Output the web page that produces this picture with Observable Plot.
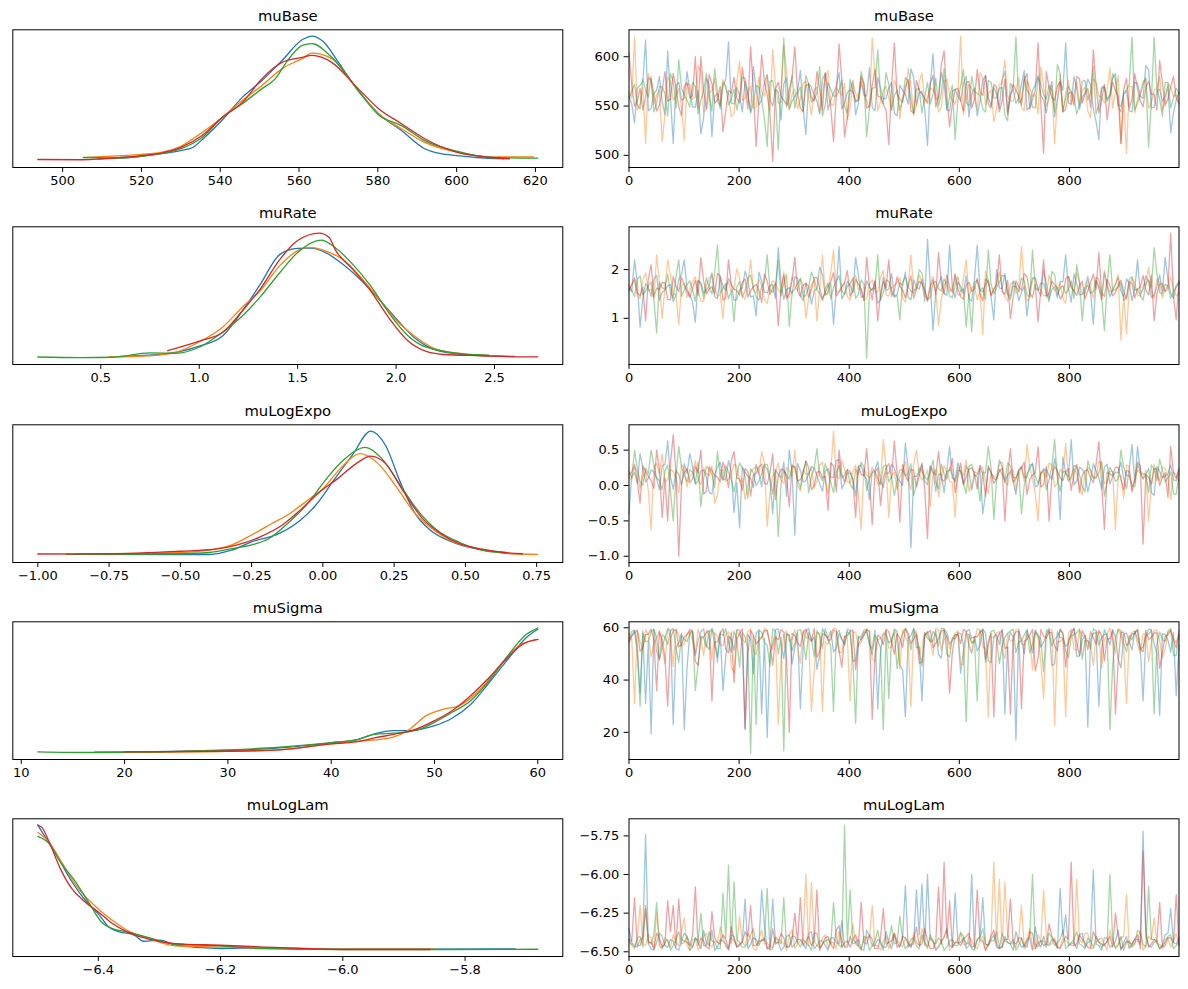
<!DOCTYPE html>
<html><head><meta charset="utf-8">
<script src="https://cdn.jsdelivr.net/npm/d3@7"></script>
<script src="https://cdn.jsdelivr.net/npm/@observablehq/plot@0.6"></script>
<style>
body{margin:0;background:#fff;}
#fig{position:relative;width:1188px;height:989px;background:#fff;}
#fig svg{position:absolute;overflow:visible;}
</style></head><body><div id="fig"></div>
<script>
// ---------- categories ----------
const paramNames = ["muBase","muRate","muLogExpo","muSigma","muLogLam"];
const chainColors = ["#1f77b4","#ff7f0e","#2ca02c","#d62728"];
const drawTicks = [0,200,400,600,800];

// ---------- KDE curves (x value, relative density) per chain: blue, orange, green, red ----------
const muBaseKdeX = [
 [509,515,520,525,530,533,536,540.5,545.6,550.6,555.7,560.8,563.3,566,570,575,580.2,586,591.9,596,600,605,612],
 [506,515,520,525,530,535.4,540.5,545.6,550.6,555.7,560.8,563.3,568.3,575,580.2,586,591.9,600,608.8,619.5],
 [505.2,515,520,525,530,535.4,540.5,545.6,550.6,554,557,560.8,563.3,568.3,575,580.2,586,591.9,600,608.8,620.6],
 [493.7,505,515,520,525,530,535.4,540.5,545.6,550.6,555.7,560.8,563.3,568.3,575,580.2,586,591.9,600,608.8,613.4]];
const muBaseKdeY = [
 [0.02,0.03,0.04,0.06,0.085,0.11,0.19,0.33,0.51,0.645,0.805,0.97,1.0,0.96,0.79,0.565,0.38,0.245,0.1,0.06,0.045,0.03,0.02],
 [0.03,0.045,0.055,0.07,0.12,0.23,0.35,0.485,0.605,0.74,0.82,0.863,0.82,0.565,0.38,0.26,0.15,0.072,0.035,0.035],
 [0.03,0.025,0.04,0.06,0.1,0.19,0.35,0.46,0.58,0.66,0.8,0.925,0.94,0.83,0.565,0.37,0.285,0.165,0.08,0.03,0.025],
 [0.014,0.012,0.03,0.045,0.065,0.11,0.205,0.35,0.47,0.66,0.79,0.83,0.845,0.79,0.58,0.42,0.3,0.18,0.072,0.03,0.02]];

const muRateKdeX = [
 [0.6,0.8,1.0,1.12,1.22,1.31,1.41,1.5,1.57,1.64,1.73,1.83,1.92,2.01,2.1,2.2,2.34,2.6],
 [0.54,0.75,0.88,1.0,1.12,1.22,1.31,1.41,1.5,1.56,1.66,1.73,1.83,1.92,2.01,2.1,2.2,2.34,2.5],
 [0.18,0.4,0.56,0.75,0.88,1.0,1.12,1.22,1.31,1.41,1.5,1.62,1.69,1.78,1.87,1.96,2.06,2.15,2.34,2.47],
 [0.84,1.0,1.12,1.22,1.31,1.41,1.5,1.61,1.66,1.69,1.78,1.87,1.96,2.06,2.15,2.24,2.43,2.62,2.72]];
const muRateKdeY = [
 [0.015,0.03,0.096,0.18,0.38,0.59,0.83,0.877,0.88,0.845,0.75,0.61,0.46,0.3,0.155,0.067,0.03,0.014],
 [0.011,0.02,0.047,0.13,0.25,0.41,0.54,0.74,0.86,0.885,0.845,0.79,0.63,0.46,0.29,0.17,0.075,0.035,0.02],
 [0.01,0.005,0.008,0.043,0.04,0.088,0.21,0.34,0.49,0.685,0.845,0.944,0.885,0.75,0.58,0.37,0.18,0.09,0.035,0.025],
 [0.06,0.136,0.207,0.38,0.553,0.79,0.94,1.0,0.965,0.87,0.71,0.54,0.33,0.14,0.056,0.03,0.02,0.011,0.011]];

const muLogExpoKdeX = [
 [-0.87,-0.5,-0.4,-0.32,-0.25,-0.155,-0.078,-0.026,0.039,0.104,0.168,0.22,0.272,0.324,0.376,0.453,0.531,0.641],
 [-0.85,-0.5,-0.4,-0.32,-0.25,-0.18,-0.117,-0.052,0,0.065,0.13,0.194,0.259,0.324,0.389,0.453,0.557,0.66,0.754],
 [-0.9,-0.5,-0.4,-0.32,-0.25,-0.19,-0.117,-0.05,0.013,0.078,0.149,0.207,0.272,0.337,0.4,0.48,0.557,0.64],
 [-1.0,-0.74,-0.5,-0.376,-0.3,-0.22,-0.142,-0.078,-0.013,0.052,0.117,0.168,0.22,0.285,0.35,0.414,0.48,0.557,0.635,0.7]];
const muLogExpoKdeY = [
 [0.016,0.014,0.014,0.048,0.115,0.18,0.29,0.405,0.61,0.81,1.0,0.885,0.59,0.34,0.21,0.115,0.062,0.03],
 [0.018,0.03,0.048,0.09,0.17,0.26,0.34,0.45,0.54,0.71,0.82,0.74,0.55,0.34,0.21,0.12,0.056,0.02,0.015],
 [0.015,0.02,0.03,0.06,0.09,0.14,0.275,0.43,0.62,0.78,0.87,0.78,0.565,0.355,0.21,0.11,0.048,0.025],
 [0.018,0.02,0.04,0.056,0.09,0.155,0.25,0.37,0.51,0.62,0.74,0.8,0.74,0.51,0.3,0.18,0.1,0.056,0.03,0.02]];

const muSigmaKdeX = [
 [17.1,30,35,40,42.4,44.2,46,47.4,50,51.7,53.5,55.3,57.1,58.9,60],
 [20,30,35,40,42.4,44.2,46,47.4,49.2,51,52.4,54.6,56.4,58.2,60],
 [11.6,17.1,30,35,40,42.4,44.2,46,48.1,50,51.7,53.5,55.3,57.1,58.9,60],
 [20,30,35,40,42.4,44.2,46,47.8,50,51.7,53.5,55.3,57.1,58.5,60]];
const muSigmaKdeY = [
 [0.008,0.022,0.043,0.083,0.106,0.155,0.18,0.18,0.22,0.28,0.39,0.565,0.75,0.925,0.99],
 [0.008,0.016,0.027,0.075,0.094,0.106,0.128,0.18,0.3,0.354,0.38,0.525,0.71,0.86,0.91],
 [0.011,0.006,0.027,0.048,0.085,0.106,0.15,0.16,0.18,0.247,0.327,0.42,0.58,0.78,0.95,1.0],
 [0.011,0.016,0.027,0.075,0.09,0.122,0.15,0.18,0.26,0.34,0.46,0.605,0.765,0.87,0.91]];

const muLogLamKdeX = [
 [-6.499,-6.48,-6.462,-6.443,-6.419,-6.4,-6.383,-6.365,-6.341,-6.326,-6.298,-6.274,-6.2,-6.135,-6.0,-5.718],
 [-6.499,-6.48,-6.462,-6.437,-6.4,-6.377,-6.353,-6.317,-6.274,-6.2,-6.135,-6.0,-5.85],
 [-6.499,-6.48,-6.462,-6.437,-6.413,-6.395,-6.377,-6.353,-6.317,-6.274,-6.2,-6.135,-6.0,-5.833,-5.681],
 [-6.499,-6.492,-6.48,-6.462,-6.443,-6.425,-6.4,-6.377,-6.353,-6.317,-6.274,-6.2,-6.135,-6.0,-5.857]];
const muLogLamKdeY = [
 [1.0,0.85,0.705,0.545,0.385,0.29,0.186,0.147,0.12,0.072,0.08,0.04,0.014,0.02,0.008,0.01],
 [0.94,0.86,0.72,0.52,0.33,0.24,0.16,0.093,0.035,0.027,0.02,0.008,0.008],
 [0.91,0.85,0.705,0.545,0.36,0.226,0.173,0.147,0.1,0.048,0.035,0.014,0.006,0.006,0.008],
 [1.0,0.98,0.86,0.65,0.49,0.4,0.306,0.213,0.147,0.088,0.053,0.04,0.027,0.006,0.006]];

// ---------- traces, per chain (blue, orange, green, red) ----------
// "A" = samples at the even slots, "B" = samples at the odd slots in between (thinned draws 0..999)
const muBaseTraceA = [
 [560,533,571,617,548,566,555,606,512,574,558,565,549,522,578,519,563,570,615,552,561,575,544,567,556,582,550,564,572,547,560,586,521,569,555,577,546,563,584,553,566,541,574,560,549,579,557,568,543,571,562,588,551,565,510,603,558,573,545,567,555,580,562,540,576,559,569,548,585,561,553,572,546,566,581,556,563,539,575,614,552,568,559,577,547,516,570,562,583,550,565,544,573,558,587,549,567,560,523,556],
 [565,620,552,512,574,561,514,579,556,568,515,572,559,585,547,566,554,577,562,543,595,558,570,549,564,581,607,553,612,546,567,557,575,541,569,560,586,551,564,573,548,563,578,555,619,545,566,558,576,537,563,571,550,583,559,567,544,575,561,552,621,557,568,546,579,563,534,572,597,555,566,549,576,560,542,571,558,512,582,563,551,574,566,545,578,560,553,589,564,512,502,570,557,575,548,566,580,554,569,561],
 [558,572,547,566,580,553,569,540,575,597,561,549,570,556,583,545,564,574,551,567,559,578,543,571,555,509,576,506,619,558,548,569,581,554,563,540,574,560,566,549,577,556,585,519,568,607,552,572,561,546,579,557,567,543,574,562,550,588,559,516,571,554,580,563,547,576,558,568,541,573,620,556,566,549,579,561,571,545,583,558,565,542,575,556,590,551,569,560,577,544,566,620,553,572,508,620,557,574,548,568],
 [604,550,568,559,577,545,566,555,583,549,570,558,600,600,547,573,556,524,566,579,553,569,610,509,602,561,494,574,556,567,610,548,571,559,585,546,565,514,613,519,566,554,580,548,571,560,552,511,614,557,569,545,576,562,553,581,559,606,529,567,556,574,548,587,561,552,572,544,577,560,566,551,583,557,614,502,569,556,575,547,564,580,553,568,607,543,572,559,566,512,578,557,567,549,575,562,596,551,570,558]];
const muBaseTraceB = [
 [552,568,575,545,563,580,541,559,571,556,585,549,566,538,572,560,547,577,553,569,544,562,590,551,574,557,567,536,579,555,565,548,573,561,542,583,556,570,547,564,576,553,561,589,545,568,558,574,540,566,552,579,563,548,571,557,584,546,565,560,573,539,568,555,581,550,562,577,544,567,558,586,549,571,561,543,575,556,566,553,580,547,563,572,534,569,557,578,551,562,545,574,560,591,548,566,555,570,543,564],
 [558,546,569,583,552,566,541,575,560,549,572,557,591,544,563,578,551,568,539,574,556,565,548,580,560,545,571,554,586,562,547,573,558,566,543,579,552,569,561,536,574,557,564,548,582,555,570,546,567,559,588,542,575,553,568,561,549,577,556,564,541,572,558,584,551,566,547,573,560,555,579,545,568,562,590,550,571,556,544,576,563,552,569,538,574,559,566,548,581,557,570,543,564,577,553,568,546,573,560,555],
 [565,551,577,559,544,570,563,583,548,568,556,574,542,565,560,588,550,571,557,546,579,562,553,569,537,575,558,566,549,581,563,545,572,557,590,551,567,560,576,543,564,555,573,548,569,561,584,546,566,557,575,541,568,559,552,578,563,547,571,556,587,550,565,561,544,574,558,569,535,567,553,580,562,548,573,557,566,592,545,570,559,551,576,563,542,568,555,583,549,565,572,546,561,579,554,567,540,574,558,563],
 [571,555,546,578,562,551,585,557,569,540,574,561,548,566,582,553,570,545,563,558,589,547,567,556,575,542,568,560,551,579,563,544,572,555,567,584,549,561,576,538,565,557,572,550,587,559,546,570,562,554,577,543,566,558,573,549,592,561,552,568,545,575,557,564,581,548,569,555,541,572,560,576,547,566,553,585,558,570,544,563,551,578,562,549,571,556,536,574,560,567,548,583,555,569,562,546,573,557,580,552]];

const muRateTraceA = [
 [1.62,2.2,0.82,1.71,1.45,1.88,1.53,1.67,1.34,1.79,2.2,1.48,0.92,1.74,1.58,1.93,1.41,1.66,1.82,1.37,1.59,1.97,1.44,1.05,1.76,1.52,1.69,2.45,1.39,1.63,1.85,1.47,1.72,1.29,1.61,1.9,1.55,0.88,2.47,1.5,1.68,2.25,1.43,1.77,1.57,1.31,1.84,1.6,1.46,1.73,1.95,1.38,1.64,1.8,2.62,0.75,1.7,1.51,2.5,1.42,1.66,1.87,1.35,2.5,1.54,1.78,0.97,1.62,1.92,1.45,1.69,1.53,1.05,1.83,1.58,1.99,1.4,1.65,1.76,2.3,1.33,1.71,1.49,1.86,0.88,1.63,1.94,1.44,1.7,1.56,1.81,1.36,2.2,1.59,1.75,1.47,1.89,2.25,1.52,1.68],
 [1.55,1.78,1.41,1.93,1.6,2.3,1.0,2.2,1.48,0.87,1.72,1.57,1.85,1.36,1.66,1.9,1.45,1.0,1.74,1.61,1.83,1.39,2.2,1.52,1.68,1.3,1.77,1.58,1.96,1.44,1.65,1.81,1.0,1.7,0.95,2.3,1.49,2.4,1.56,1.73,1.37,1.88,1.6,1.42,1.79,1.53,1.98,1.46,1.67,1.84,1.33,2.3,1.59,1.75,1.4,1.86,0.85,1.69,1.55,1.91,1.47,2.2,1.63,1.38,0.67,1.76,1.58,1.95,1.43,1.7,1.52,2.47,1.35,1.8,1.61,1.46,1.89,1.57,1.72,1.31,1.66,1.93,1.5,1.78,1.41,1.64,1.99,1.54,1.71,0.55,0.68,1.82,1.48,1.67,2.05,1.39,1.74,1.59,1.85,1.45],
 [1.68,1.45,1.87,1.56,1.74,0.7,1.63,1.91,1.42,2.2,1.59,1.77,1.35,1.69,1.84,1.5,2.5,1.62,1.4,0.93,1.75,1.57,1.89,1.44,1.66,2.3,1.53,2.2,1.71,0.83,1.6,1.82,1.47,1.95,1.58,1.36,1.73,1.64,1.88,1.49,1.7,1.41,1.79,0.18,1.61,2.3,1.52,1.76,1.43,0.97,1.85,1.56,1.67,1.92,1.38,1.72,1.6,1.81,1.46,1.69,1.55,0.82,0.72,1.78,1.63,2.4,1.5,1.74,1.87,1.39,1.65,1.83,1.48,2.4,1.57,1.71,1.34,1.9,1.62,1.51,1.77,2.1,0.95,1.68,1.55,1.8,0.75,2.3,1.59,1.73,1.44,1.86,1.6,1.37,1.79,2.45,1.53,1.7,1.41,1.64],
 [1.58,1.83,1.47,0.95,2.1,1.62,1.74,1.39,1.86,1.55,1.69,1.43,1.78,2.25,1.5,1.65,1.92,1.37,2.2,1.6,1.48,1.81,1.56,1.7,1.33,1.76,1.63,0.85,1.89,1.52,2.25,1.45,1.72,1.59,1.84,1.4,1.67,1.94,1.54,1.73,1.46,1.8,1.61,2.25,1.38,0.95,1.75,2.2,1.57,1.66,1.42,1.87,1.6,1.71,1.35,1.79,2.35,1.5,1.64,1.9,1.44,1.68,1.55,1.82,1.36,1.74,1.61,2.3,1.49,1.0,1.77,1.58,1.85,1.43,0.93,2.2,1.52,1.69,1.4,1.81,1.63,1.47,1.76,1.56,1.91,2.35,1.45,1.67,1.53,1.78,1.39,1.72,1.6,1.88,1.48,0.95,1.7,1.55,2.75,0.97]];
const muRateTraceB = [
 [1.55,1.74,1.42,1.63,1.81,1.37,1.58,1.69,1.48,1.9,1.6,1.33,1.77,1.52,1.66,1.44,1.85,1.57,1.7,1.39,1.62,1.78,1.46,1.95,1.54,1.67,1.41,1.73,1.59,1.5,1.82,1.36,1.65,1.56,2.05,1.47,1.71,1.61,1.4,1.76,1.53,1.88,1.45,1.64,1.75,1.38,1.58,1.92,1.49,1.68,1.43,1.79,1.6,1.35,1.72,1.55,1.86,1.47,1.63,1.74,1.51,1.4,1.8,1.57,1.69,1.44,2.0,1.61,1.5,1.77,1.36,1.66,1.56,1.83,1.46,1.7,1.59,1.42,1.75,1.62,1.91,1.48,1.64,1.53,1.78,1.39,1.67,1.58,1.84,1.45,1.71,1.6,1.5,1.87,1.43,1.65,1.55,1.8,1.41,1.73],
 [1.68,1.47,1.79,1.56,1.41,1.72,1.63,1.88,1.5,1.66,1.43,1.76,1.58,1.35,1.82,1.61,1.49,1.7,1.55,2.02,1.46,1.67,1.59,1.8,1.38,1.64,1.73,1.52,1.44,1.85,1.57,1.69,1.4,1.77,1.62,1.5,1.93,1.54,1.66,1.45,1.78,1.6,1.37,1.71,1.56,1.84,1.48,1.63,1.74,1.42,1.67,1.58,1.89,1.46,1.7,1.53,1.39,1.76,1.61,1.5,1.81,1.44,1.65,1.57,1.97,1.49,1.72,1.6,1.36,1.75,1.54,1.68,1.43,1.83,1.59,1.47,1.7,1.62,1.4,1.86,1.55,1.73,1.51,1.64,1.78,1.38,1.66,1.57,1.9,1.48,1.62,1.74,1.45,1.69,1.56,1.81,1.42,1.67,1.6,1.52],
 [1.57,1.8,1.48,1.67,1.39,1.74,1.6,1.52,1.86,1.45,1.69,1.58,1.78,1.41,1.63,1.94,1.5,1.71,1.56,1.65,1.43,1.82,1.61,1.37,1.75,1.59,1.68,1.46,1.9,1.54,1.72,1.44,1.64,1.81,1.51,1.6,1.4,1.77,1.57,1.66,1.83,1.49,1.7,1.55,1.62,1.38,1.79,1.58,1.47,1.73,1.65,1.52,2.0,1.6,1.43,1.76,1.56,1.68,1.42,1.85,1.61,1.5,1.74,1.57,1.39,1.7,1.63,1.88,1.46,1.66,1.55,1.78,1.44,1.62,1.72,1.53,1.96,1.48,1.67,1.59,1.41,1.75,1.6,1.51,1.84,1.45,1.69,1.56,1.64,1.37,1.8,1.58,1.47,1.71,1.62,1.92,1.5,1.66,1.55,1.73],
 [1.7,1.52,1.64,1.8,1.45,1.59,1.73,1.38,1.66,1.84,1.55,1.62,1.47,1.77,1.6,1.5,1.87,1.42,1.69,1.57,1.74,1.44,1.65,1.58,1.91,1.49,1.71,1.6,1.4,1.78,1.56,1.68,1.43,1.83,1.61,1.52,1.75,1.46,1.63,1.98,1.54,1.7,1.37,1.66,1.79,1.5,1.62,1.45,1.85,1.58,1.67,1.41,1.76,1.57,1.64,1.48,1.72,1.89,1.53,1.61,1.39,1.74,1.6,1.5,1.81,1.46,1.68,1.55,1.78,1.43,1.65,1.92,1.51,1.7,1.59,1.44,1.76,1.62,1.48,1.86,1.57,1.67,1.4,1.73,1.6,1.52,1.8,1.46,1.69,1.55,1.75,1.42,1.64,1.58,1.88,1.5,1.71,1.61,1.45,1.78]];

const muLogExpoTraceA = [
 [-0.4,0.18,0.45,0.05,0.22,0.1,0.28,0.63,-0.05,0.16,0.31,0.45,0.02,0.2,0.12,-0.12,0.26,0.08,0.35,-0.38,-0.6,0.19,0.1,0.3,-0.02,0.23,-0.4,0.15,0.33,0.5,-0.7,0.21,0.07,0.27,0.14,-0.08,0.24,0.11,0.37,0.03,0.18,-0.15,0.29,0.09,0.2,0.34,-0.03,0.17,0.25,0.06,0.6,-0.88,0.13,0.32,0.01,0.22,0.16,-0.1,0.55,0.08,0.19,0.28,-0.06,0.15,-0.4,0.25,0.1,0.36,0.04,0.2,-0.13,0.27,0.12,0.3,0.0,0.21,0.14,0.38,-0.48,0.17,0.65,0.06,0.23,-0.09,0.31,0.11,0.26,0.02,0.19,0.33,-0.04,0.58,0.55,0.09,0.24,-0.14,0.2,0.13,0.29,0.07],
 [0.12,0.26,-0.04,0.19,-0.63,0.31,0.45,0.08,0.2,-0.1,0.24,0.13,0.35,0.01,0.17,0.28,-0.14,0.22,0.09,0.3,0.05,-0.2,0.18,0.27,0.48,-0.58,0.14,0.32,0.03,0.21,0.5,-0.08,0.16,0.25,0.07,0.33,-0.12,0.77,0.1,0.23,0.04,0.29,-0.62,0.15,0.26,0.02,0.65,-0.45,0.19,0.11,0.34,-0.06,0.5,0.08,0.22,0.15,-0.16,0.28,0.06,-0.45,0.2,0.36,0.0,0.17,0.25,-0.11,0.13,0.31,0.05,0.21,-0.07,0.27,0.58,0.1,-0.5,0.18,0.32,-0.02,0.23,0.6,0.09,0.16,-0.13,0.26,0.12,0.34,0.03,0.2,-0.62,0.14,0.29,-0.05,0.22,0.1,-0.5,0.3,0.07,0.24,-0.2,0.15],
 [0.2,0.5,0.06,0.25,0.5,0.11,-0.06,0.29,-0.5,0.55,0.14,0.22,0.03,-0.3,0.27,0.16,0.48,0.08,0.19,-0.09,0.32,0.12,0.24,0.0,0.17,0.3,-0.12,-0.72,0.21,0.09,0.26,-0.04,0.34,0.13,0.52,0.07,0.19,-0.1,0.28,0.15,0.02,0.23,0.33,-0.07,0.18,0.1,0.27,0.05,-0.14,0.22,0.14,0.31,0.01,0.2,0.08,0.36,-0.05,0.16,0.25,0.04,0.21,-0.11,0.3,0.12,0.19,0.55,-0.48,0.23,0.07,0.28,0.11,-0.4,0.17,0.32,0.03,0.24,0.09,0.65,-0.08,0.2,0.13,0.27,-0.02,0.35,0.1,0.18,-0.15,0.26,0.06,0.5,0.14,0.01,0.3,0.16,-0.1,0.23,0.37,0.05,0.19,-0.12],
 [0.15,0.3,-0.25,0.2,0.07,0.5,-0.45,-0.5,0.72,-1.0,0.18,0.04,0.27,0.5,-0.08,0.21,0.12,0.33,-0.03,0.48,0.09,0.24,-0.15,0.17,0.3,0.02,0.45,0.13,0.22,-0.3,0.26,0.08,0.35,-0.06,0.19,0.11,-0.35,0.28,0.5,0.05,0.2,-0.45,0.16,0.52,-0.55,0.25,0.1,0.31,0.63,-0.52,0.14,0.23,-0.02,0.29,-0.75,0.18,0.48,0.06,0.21,-0.1,0.32,0.12,0.25,-0.05,0.17,0.28,0.03,0.2,-0.5,0.52,0.09,0.24,-0.13,0.15,0.55,0.01,-0.5,0.27,0.11,0.19,-0.07,0.3,0.14,0.22,0.04,0.62,-0.62,0.16,0.26,0.08,0.21,-0.09,0.33,-0.83,0.12,0.24,0.0,0.18,0.55,0.1]];
const muLogExpoTraceB = [
 [0.14,0.03,0.25,0.1,0.19,-0.06,0.3,0.12,0.21,0.01,0.17,0.27,0.06,0.22,-0.1,0.15,0.33,0.09,0.2,0.04,0.26,0.13,-0.03,0.18,0.29,0.08,0.23,0.11,-0.15,0.19,0.31,0.05,0.16,0.24,0.02,0.2,0.12,0.35,-0.04,0.17,0.09,0.27,0.14,-0.2,0.22,0.07,0.18,0.3,0.11,0.0,0.25,0.13,0.19,0.06,0.28,-0.08,0.16,0.21,0.1,0.32,0.03,0.2,0.14,0.24,-0.12,0.18,0.08,0.27,0.15,0.05,0.22,0.11,0.29,-0.02,0.17,0.23,0.09,0.19,0.4,0.12,0.01,0.26,0.16,0.07,0.21,-0.05,0.3,0.13,0.18,0.1,0.24,0.04,0.2,0.15,-0.1,0.27,0.11,0.17,0.08,0.22],
 [0.08,0.2,0.13,-0.07,0.27,0.16,0.05,0.23,0.11,0.3,-0.02,0.18,0.09,0.25,0.14,-0.25,0.21,0.06,0.17,0.28,0.1,0.02,0.24,0.15,0.32,-0.1,0.19,0.07,0.26,0.12,0.0,0.22,0.16,-0.04,0.29,0.09,0.18,0.13,0.35,0.05,0.2,-0.15,0.24,0.11,0.17,0.03,0.27,0.14,-0.06,0.21,0.08,0.3,0.16,0.12,-0.3,0.23,0.1,0.19,0.04,0.26,0.14,-0.08,0.2,0.28,0.07,0.17,0.11,0.33,0.01,0.22,0.15,0.06,0.25,-0.12,0.19,0.12,0.29,0.03,0.18,0.09,0.24,-0.03,0.16,0.21,0.1,0.31,0.05,0.2,0.13,-0.18,0.27,0.08,0.17,0.22,0.0,0.14,0.26,0.11,0.19,0.06],
 [0.11,0.24,0.0,0.17,0.29,0.07,0.2,-0.08,0.14,0.26,0.05,0.19,0.33,0.1,0.22,-0.03,0.16,0.28,0.08,0.13,0.25,-0.18,0.18,0.06,0.3,0.12,0.21,0.02,0.15,0.27,0.09,0.2,-0.1,0.24,0.14,0.31,0.04,0.18,0.11,0.23,-0.05,0.16,0.26,0.1,0.2,0.01,0.29,0.13,0.07,0.22,0.17,-0.14,0.25,0.12,0.19,0.05,0.3,0.09,0.15,0.21,0.03,0.27,0.14,-0.22,0.18,0.24,0.08,0.16,0.32,0.11,0.2,0.0,0.23,0.13,0.17,-0.06,0.26,0.1,0.19,0.06,0.28,0.15,-0.09,0.21,0.12,0.34,0.04,0.18,0.09,0.25,0.14,-0.02,0.2,0.16,0.29,0.07,0.22,0.11,-0.12,0.17],
 [0.19,0.06,0.28,0.13,-0.04,0.22,0.1,0.31,0.16,0.02,0.24,0.09,0.18,-0.12,0.27,0.14,0.05,0.21,0.35,0.11,-0.07,0.2,0.15,0.26,0.03,0.18,-0.2,0.23,0.12,0.29,0.07,0.17,0.25,0.0,0.2,0.13,0.32,-0.09,0.16,0.22,0.08,0.27,0.14,0.04,0.19,-0.28,0.24,0.11,0.17,0.3,0.06,0.21,0.13,-0.05,0.26,0.15,0.09,0.2,0.38,0.12,0.01,0.23,0.17,0.28,-0.15,0.19,0.1,0.25,0.14,0.05,0.22,0.33,0.08,0.18,-0.02,0.27,0.13,0.2,0.07,0.24,0.16,-0.1,0.21,0.11,0.3,0.04,0.19,0.14,0.26,-0.06,0.2,0.09,0.28,0.15,0.02,0.23,0.12,-0.17,0.18,0.25]];

const muSigmaTraceA = [
 [55.2,58.9,35,31,19.5,56.4,52.8,59.6,23,54.1,21,57.7,49.3,58.5,53.2,59.8,46.9,36,56.8,51.4,59.2,21.5,55.6,58.1,27,18,53.7,59.5,48.2,57.3,52.6,29,58.7,54.9,44.1,59.7,56.2,50.8,57.9,53.3,59.1,47.5,55.4,58.3,51.9,29,57.6,54.2,59.4,45.8,26,56.9,52.3,32,58.6,55.1,49.7,59.3,53.8,57.2,42.6,58.4,55.9,51.2,59.6,47.3,56.5,53.6,27,58.2,17,55.7,59.0,50.4,57.1,54.5,59.8,46.2,56.3,52.9,58.8,49.1,55.3,22,57.8,30,59.3,53.4,56.6,44.7,58.0,51.6,55.8,32,59.5,54.0,26.5,57.4,50.7,34],
 [57.8,31,54.6,59.3,48.9,56.1,52.4,59.7,45.2,57.5,53.9,58.6,50.3,55.7,59.1,47.6,56.8,53.1,58.4,42.8,57.0,54.3,59.6,49.8,56.2,58.9,51.7,23,57.3,54.8,59.4,46.5,55.9,28,58.1,28,53.5,59.8,50.6,56.7,32,58.3,54.4,59.0,47.9,55.6,57.9,52.2,59.5,44.3,56.4,30,58.7,53.0,57.1,49.4,59.2,55.3,51.8,58.0,46.1,57.6,54.1,59.7,52.7,26,56.3,58.5,48.3,55.0,59.1,53.8,57.4,43.9,56.0,33,58.8,22.5,54.7,26,59.4,51.3,57.0,54.9,45.5,58.2,55.5,59.9,50.1,56.9,31,58.3,53.6,57.7,47.0,59.0,55.2,52.0,58.6,54.3],
 [56.0,59.2,30,54.7,58.4,50.9,57.3,53.6,59.8,46.7,55.5,58.0,36,56.9,52.5,59.4,49.0,57.1,54.3,58.7,44.9,56.5,12,23,58.2,53.4,59.6,50.0,13,57.0,54.0,59.3,47.8,56.1,58.9,52.0,55.8,28,59.0,53.9,57.5,23.5,56.7,59.5,49.6,55.2,21,33,58.1,54.5,59.7,51.5,57.2,45.4,56.0,58.6,53.1,59.9,48.7,55.7,57.8,24,54.2,32,58.3,52.8,59.1,46.3,56.4,58.8,50.5,55.1,59.4,53.7,57.0,43.2,58.5,55.6,59.2,51.0,56.8,58.1,48.0,55.0,59.6,53.3,57.4,21,56.1,58.9,50.8,55.4,59.1,52.6,57.6,27,58.4,54.8,59.7,49.5],
 [54.4,58.1,51.0,57.4,59.5,36,55.3,30,58.8,52.7,56.6,59.3,47.2,55.9,58.2,32,54.6,59.7,50.4,39,57.6,21,58.9,53.8,56.3,59.0,45.7,55.4,58.3,20,57.0,52.9,59.5,54.8,48.6,57.7,55.1,59.2,51.3,56.8,58.6,44.0,55.7,59.4,25,57.2,53.5,58.5,49.9,56.1,59.8,54.0,57.5,46.8,58.0,52.4,55.9,59.1,35,57.3,53.9,58.7,50.2,56.6,59.4,54.7,26,57.9,52.1,27,58.4,29,55.6,59.3,48.1,56.9,58.2,53.0,59.6,45.0,57.1,54.4,58.9,51.6,56.2,59.0,47.4,55.8,27,58.3,53.2,57.8,59.5,50.9,55.5,58.0,44.6,56.7,59.2,52.3]];
const muSigmaTraceB = [
 [57.1,50.3,58.7,54.8,59.4,47.6,56.2,59.0,52.5,57.9,44.8,58.3,55.1,59.6,51.7,56.9,58.5,48.9,55.7,59.2,53.4,57.5,42.3,58.9,55.9,50.6,59.3,54.2,57.8,46.1,58.1,53.0,59.7,56.4,49.5,57.3,58.8,52.1,55.5,59.5,47.2,56.7,58.4,53.7,59.1,50.9,57.6,55.0,58.6,44.0,56.1,59.8,52.8,57.0,54.5,59.0,48.4,58.2,55.3,57.7,51.2,59.4,56.6,53.2,58.0,46.7,57.4,59.6,54.0,56.3,58.9,50.1,55.8,59.2,52.6,57.2,45.5,58.5,56.0,53.9,59.7,49.2,57.0,55.4,58.3,51.5,56.8,59.1,47.9,57.5,54.7,58.8,52.2,56.5,59.3,50.0,57.8,55.2,58.1,53.5],
 [55.5,59.0,51.9,57.2,54.0,58.6,46.4,56.6,59.3,52.9,57.7,55.2,59.6,49.3,56.9,58.2,53.6,57.4,45.1,59.1,55.8,58.5,51.1,56.4,59.7,54.4,57.0,48.0,58.8,55.6,52.3,59.2,56.7,43.7,58.0,54.9,57.6,59.5,50.5,56.2,58.4,53.1,57.3,59.0,47.4,55.9,58.7,52.7,56.8,59.4,54.2,57.9,49.8,58.3,55.4,59.8,51.4,57.1,56.0,58.9,45.9,57.5,54.6,59.2,52.0,56.5,58.1,50.8,57.8,55.1,59.6,53.3,56.3,58.6,47.1,57.0,59.3,54.8,55.7,58.0,51.8,59.0,56.9,53.8,58.4,44.6,57.3,55.5,59.7,52.4,56.1,58.7,50.2,57.6,54.3,59.1,48.5,58.2,55.9,57.4],
 [58.6,53.3,57.9,55.0,59.5,48.2,56.5,58.9,52.6,57.4,54.7,59.2,46.0,56.1,58.4,53.9,57.7,59.6,50.7,55.6,58.1,52.1,57.0,59.3,54.4,45.3,58.7,56.3,57.5,51.3,59.0,55.2,58.3,49.0,56.9,59.7,53.0,57.6,55.7,58.5,47.5,56.4,59.1,54.1,57.3,52.4,58.8,55.9,44.4,57.8,56.6,59.4,51.6,58.0,54.9,57.1,59.8,49.9,56.2,58.2,53.5,57.5,55.3,59.0,46.8,58.6,56.0,52.9,57.9,59.5,54.5,57.2,50.3,58.4,55.8,59.2,53.1,56.7,58.0,48.6,57.4,59.6,55.1,52.0,58.9,56.4,57.7,45.8,59.3,54.3,57.0,58.3,51.9,56.8,59.0,53.7,55.5,58.7,49.4,57.2],
 [56.8,59.1,52.2,57.6,55.4,58.7,48.7,56.0,59.4,53.6,57.3,58.5,45.6,56.6,59.0,54.5,57.9,51.8,58.3,55.8,59.6,50.1,57.1,55.1,58.9,53.2,56.4,59.3,47.7,57.8,54.3,58.1,56.2,59.7,51.0,57.4,55.5,58.6,44.9,56.9,59.2,53.8,57.0,58.4,49.6,56.3,59.5,54.6,57.7,52.5,58.0,55.7,46.5,57.2,59.1,54.0,58.8,56.1,50.7,57.5,59.4,53.4,56.7,58.2,48.2,57.9,55.2,59.0,52.7,56.5,58.6,54.8,57.3,43.5,59.3,56.0,58.1,51.2,57.6,55.3,59.8,49.5,56.9,58.5,53.7,57.1,55.9,59.2,47.0,58.3,54.4,57.7,52.0,59.0,56.4,58.0,50.6,57.4,55.6,58.9]];

const muLogLamTraceA = [
 [-6.35,-6.46,-6.42,-5.74,-6.48,-6.44,-6.4,-6.47,-6.43,-6.49,-6.38,-6.45,-6.41,-6.48,-6.44,-6.36,-6.47,-6.43,-6.49,-6.4,-6.46,-6.16,-6.45,-6.42,-6.1,-6.48,-6.16,-6.44,-6.47,-6.39,-6.45,-6.42,-6.48,-6.37,-6.46,-6.43,-6.49,-6.41,-6.45,-6.47,-6.4,-6.44,-6.48,-6.36,-6.46,-6.42,-6.49,-6.44,-6.39,-6.47,-6.07,-6.45,-6.1,-6.06,-6.0,-6.43,-6.47,-6.41,-6.46,-6.12,-6.44,-6.48,-6.0,-6.42,-6.15,-6.46,-6.39,-6.48,-6.43,-6.45,-6.37,-6.47,-6.42,-6.49,-6.44,-6.4,-6.46,-6.43,-6.09,-6.26,-6.45,-6.48,-6.38,-6.44,-5.97,-6.46,-6.41,-6.47,-6.43,-6.49,-6.4,-6.45,-6.42,-5.72,-6.46,-6.44,-6.48,-6.39,-6.22,-6.45],
 [-6.44,-6.48,-6.2,-6.46,-6.41,-6.25,-6.47,-6.43,-6.39,-6.46,-6.28,-6.49,-6.42,-6.45,-6.38,-6.47,-6.44,-6.4,-6.48,-6.43,-6.27,-6.46,-6.41,-6.49,-6.36,-6.44,-6.47,-6.42,-6.45,-6.39,-6.48,-6.43,-6.0,-6.05,-6.46,-6.41,-6.48,-6.44,-6.37,-6.47,-6.42,-6.45,-6.49,-6.4,-6.2,-6.46,-6.43,-6.48,-6.38,-6.45,-6.41,-6.47,-6.44,-6.35,-6.48,-6.42,-6.46,-6.4,-6.49,-6.44,-6.37,-6.46,-6.43,-6.48,-6.4,-6.45,-5.92,-6.03,-6.05,-6.44,-6.47,-6.2,-6.42,-6.48,-6.39,-6.1,-6.45,-6.41,-6.47,-6.43,-6.46,-6.03,-6.44,-6.38,-6.48,-6.42,-6.45,-6.36,-6.47,-6.41,-6.13,-6.46,-6.43,-6.49,-6.4,-6.28,-6.45,-6.42,-6.47,-6.38],
 [-6.43,-6.47,-6.4,-6.2,-6.45,-6.18,-6.48,-6.42,-6.46,-6.37,-6.44,-6.49,-6.41,-6.25,-6.46,-6.43,-6.48,-6.12,-5.94,-6.05,-6.44,-6.47,-6.39,-6.45,-6.42,-6.09,-6.48,-6.43,-6.15,-6.46,-6.4,-6.47,-6.44,-6.49,-6.38,-6.45,-6.42,-6.18,-6.46,-5.68,-6.1,-6.44,-6.48,-6.41,-6.46,-6.36,-6.47,-6.43,-6.45,-6.27,-6.48,-6.42,-6.46,-6.39,-6.47,-6.44,-6.41,-6.49,-6.43,-6.46,-6.38,-6.45,-6.48,-6.42,-6.35,-6.46,-6.43,-6.47,-6.4,-6.45,-6.49,-6.41,-6.44,-6.0,-6.47,-6.43,-6.38,-6.46,-6.42,-6.48,-6.44,-6.37,-6.46,-6.41,-6.47,-6.43,-6.45,-6.0,-6.48,-6.4,-6.44,-6.47,-6.36,-6.45,-6.08,-6.42,-6.48,-6.44,-6.39,-6.46],
 [-6.42,-6.15,-6.46,-6.22,-6.44,-6.38,-6.47,-6.17,-6.2,-6.16,-6.43,-6.46,-6.08,-6.41,-6.47,-6.24,-6.44,-6.39,-6.48,-6.42,-6.45,-6.37,-6.2,-6.46,-6.43,-6.48,-6.35,-6.44,-6.41,-6.47,-6.25,-6.15,-6.43,-6.46,-6.1,-6.45,-6.4,-6.48,-6.33,-6.44,-6.47,-6.39,-6.18,-6.45,-6.42,-6.48,-6.22,-6.44,-6.38,-6.46,-6.41,-6.47,-6.34,-6.45,-6.43,-6.48,-6.08,-5.92,-6.17,-6.44,-6.46,-6.4,-6.47,-6.1,-6.43,-6.45,-6.36,-6.48,-6.42,-6.16,-6.45,-6.41,-6.47,-6.38,-6.44,-6.46,-6.32,-6.43,-6.48,-6.4,-5.92,-6.45,-6.42,-6.47,-6.37,-6.44,-6.46,-6.4,-6.25,-6.48,-6.43,-6.45,-6.39,-5.85,-6.47,-6.42,-6.18,-6.46,-6.41,-6.13]];
const muLogLamTraceB = [
 [-6.44,-6.47,-6.41,-6.45,-6.49,-6.38,-6.46,-6.42,-6.48,-6.43,-6.4,-6.47,-6.44,-6.36,-6.46,-6.49,-6.42,-6.45,-6.39,-6.47,-6.43,-6.48,-6.41,-6.45,-6.33,-6.46,-6.44,-6.49,-6.4,-6.47,-6.42,-6.45,-6.38,-6.48,-6.43,-6.46,-6.41,-6.44,-6.3,-6.47,-6.45,-6.42,-6.49,-6.4,-6.46,-6.43,-6.37,-6.48,-6.44,-6.41,-6.47,-6.45,-6.39,-6.46,-6.42,-6.49,-6.43,-6.35,-6.47,-6.44,-6.41,-6.46,-6.48,-6.4,-6.45,-6.42,-6.47,-6.38,-6.44,-6.49,-6.43,-6.46,-6.41,-6.34,-6.47,-6.45,-6.42,-6.48,-6.4,-6.46,-6.44,-6.39,-6.47,-6.43,-6.45,-6.49,-6.41,-6.46,-6.36,-6.44,-6.48,-6.42,-6.45,-6.4,-6.47,-6.43,-6.46,-6.38,-6.44,-6.41],
 [-6.46,-6.42,-6.45,-6.39,-6.48,-6.43,-6.41,-6.47,-6.44,-6.37,-6.46,-6.42,-6.49,-6.4,-6.45,-6.43,-6.34,-6.47,-6.41,-6.46,-6.44,-6.38,-6.48,-6.42,-6.45,-6.47,-6.4,-6.43,-6.49,-6.36,-6.45,-6.41,-6.46,-6.43,-6.47,-6.39,-6.44,-6.48,-6.42,-6.45,-6.32,-6.47,-6.43,-6.41,-6.46,-6.49,-6.4,-6.44,-6.42,-6.47,-6.45,-6.38,-6.46,-6.43,-6.41,-6.48,-6.44,-6.36,-6.47,-6.42,-6.45,-6.4,-6.46,-6.43,-6.49,-6.41,-6.44,-6.47,-6.39,-6.45,-6.42,-6.46,-6.35,-6.48,-6.43,-6.4,-6.45,-6.47,-6.41,-6.44,-6.46,-6.42,-6.38,-6.47,-6.44,-6.41,-6.49,-6.43,-6.45,-6.4,-6.47,-6.44,-6.36,-6.46,-6.42,-6.45,-6.48,-6.41,-6.43,-6.46],
 [-6.45,-6.41,-6.47,-6.43,-6.39,-6.46,-6.44,-6.49,-6.42,-6.45,-6.4,-6.47,-6.43,-6.46,-6.37,-6.44,-6.48,-6.41,-6.45,-6.42,-6.47,-6.44,-6.35,-6.46,-6.43,-6.49,-6.41,-6.45,-6.47,-6.4,-6.44,-6.42,-6.46,-6.38,-6.48,-6.43,-6.45,-6.41,-6.47,-6.44,-6.42,-6.46,-6.4,-6.49,-6.43,-6.45,-6.47,-6.33,-6.44,-6.42,-6.46,-6.41,-6.48,-6.44,-6.39,-6.45,-6.43,-6.47,-6.42,-6.46,-6.4,-6.44,-6.49,-6.41,-6.45,-6.43,-6.37,-6.47,-6.44,-6.42,-6.46,-6.48,-6.4,-6.45,-6.43,-6.47,-6.41,-6.44,-6.36,-6.46,-6.42,-6.45,-6.48,-6.43,-6.4,-6.47,-6.44,-6.41,-6.46,-6.49,-6.43,-6.45,-6.38,-6.47,-6.42,-6.44,-6.46,-6.4,-6.48,-6.43],
 [-6.43,-6.46,-6.4,-6.44,-6.48,-6.41,-6.45,-6.37,-6.47,-6.42,-6.44,-6.39,-6.46,-6.43,-6.48,-6.41,-6.45,-6.42,-6.34,-6.47,-6.44,-6.4,-6.46,-6.43,-6.41,-6.48,-6.45,-6.38,-6.47,-6.42,-6.44,-6.46,-6.4,-6.43,-6.49,-6.41,-6.45,-6.36,-6.47,-6.43,-6.42,-6.46,-6.44,-6.39,-6.48,-6.41,-6.45,-6.43,-6.47,-6.4,-6.44,-6.42,-6.46,-6.35,-6.48,-6.43,-6.45,-6.41,-6.47,-6.44,-6.42,-6.38,-6.46,-6.43,-6.49,-6.4,-6.45,-6.47,-6.42,-6.44,-6.41,-6.46,-6.37,-6.48,-6.43,-6.45,-6.4,-6.47,-6.44,-6.42,-6.46,-6.39,-6.44,-6.48,-6.41,-6.45,-6.43,-6.47,-6.4,-6.46,-6.44,-6.42,-6.48,-6.36,-6.45,-6.43,-6.47,-6.41,-6.44,-6.46]];

// ---------- tick labels ----------
const kdeTicks = [
 [500,520,540,560,580,600,620],
 [0.5,1.0,1.5,2.0,2.5],
 [-1.0,-0.75,-0.5,-0.25,0,0.25,0.5,0.75],
 [10,20,30,40,50,60],
 [-6.4,-6.2,-6.0,-5.8]];
const kdeTickFormats = ["d",".1f",".2f","d",".1f"];
const traceTicks = [
 [500,550,600],
 [1,2],
 [-1.0,-0.5,0.0,0.5],
 [20,40,60],
 [-6.5,-6.25,-6.0,-5.75]];
const traceTickFormats = ["d","d",".1f","d",".2f"];

const kdeX = [muBaseKdeX, muRateKdeX, muLogExpoKdeX, muSigmaKdeX, muLogLamKdeX];
const kdeY = [muBaseKdeY, muRateKdeY, muLogExpoKdeY, muSigmaKdeY, muLogLamKdeY];
const tracesA = [muBaseTraceA, muRateTraceA, muLogExpoTraceA, muSigmaTraceA, muLogLamTraceA];
const tracesB = [muBaseTraceB, muRateTraceB, muLogExpoTraceB, muSigmaTraceB, muLogLamTraceB];

// ---------- layout ----------
const FONT = "'DejaVu Sans', sans-serif";
const TICK_FS = 13, TITLE_FS = 14.8;
const rowH = 197.3, frameTop0 = 29.3, frameH = 137.7;
const colW = 594;
const leftFrame = [12.3, 562.3], rightFrame = [628.5, 1178.5];
const fig = document.getElementById("fig");

function place(svg, left, top) {
  svg.style.left = left + "px";
  svg.style.top = top + "px";
  fig.appendChild(svg);
}

function baseOpts(colLeft, frame) {
  return {
    width: colW, height: rowH,
    marginLeft: frame[0] - colLeft,
    marginRight: colLeft + colW - frame[1],
    marginTop: frameTop0,
    marginBottom: rowH - frameTop0 - frameH,
    style: {fontFamily: FONT, fontSize: TICK_FS + "px", color: "#000", background: "transparent", overflow: "visible"}
  };
}

paramNames.forEach((name, r) => {
  // ----- KDE panel -----
  const kd = [];
  kdeX[r].forEach((xs, c) => xs.forEach((x, i) => kd.push({chain: c, x, h: kdeY[r][c][i]})));
  const [x0, x1] = d3.extent(kd, d => d.x);
  const padX = 0.05 * (x1 - x0);
  const hmax = d3.max(kd, d => d.h);
  const p1 = Plot.plot({
    ...baseOpts(0, leftFrame),
    x: {domain: [x0 - padX, x1 + padX]},
    y: {domain: [-0.05 * hmax, 1.05 * hmax], axis: null},
    color: {type: "ordinal", domain: [0,1,2,3], range: chainColors},
    marks: [
      Plot.line(kd, {x: "x", y: "h", z: "chain", stroke: "chain", strokeWidth: 1.3, curve: "monotone-x"}),
      Plot.axisX({ticks: kdeTicks[r], tickFormat: d3.format(kdeTickFormats[r]), tickSize: 4.9, tickPadding: 3.5, label: null, fontSize: TICK_FS}),
      Plot.frame({stroke: "#000", strokeWidth: 1}),
      Plot.text([name], {frameAnchor: "top", dy: -8.3, lineAnchor: "bottom", text: d => d, fontSize: TITLE_FS, fill: "#000"})
    ]
  });
  place(p1, 0, r * rowH);

  // ----- trace panel -----
  const seq = [];
  tracesA[r].forEach((a, c) => {
    const b = tracesB[r][c];
    const vals = [];
    a.forEach((v, i) => { vals.push(v); if (i < b.length) vals.push(b[i]); });
    vals.forEach((v, i) => seq.push({chain: c, draw: i * 999 / (vals.length - 1), v}));
  });
  const [y0, y1] = d3.extent(seq, d => d.v);
  const padY = 0.05 * (y1 - y0);
  const p2 = Plot.plot({
    ...baseOpts(colW, rightFrame),
    x: {domain: [0, 999]},
    y: {domain: [y0 - padY, y1 + padY]},
    color: {type: "ordinal", domain: [0,1,2,3], range: chainColors},
    marks: [
      Plot.line(seq, {x: "draw", y: "v", z: "chain", stroke: "chain", strokeOpacity: 0.42, strokeWidth: 1.3}),
      Plot.axisX({ticks: drawTicks, tickFormat: d3.format("d"), tickSize: 4.9, tickPadding: 3.5, label: null, fontSize: TICK_FS}),
      Plot.axisY({ticks: traceTicks[r], tickFormat: d3.format(traceTickFormats[r]), tickSize: 4.9, tickPadding: 4.9, label: null, fontSize: TICK_FS}),
      Plot.frame({stroke: "#000", strokeWidth: 1}),
      Plot.text([name], {frameAnchor: "top", dy: -8.3, lineAnchor: "bottom", text: d => d, fontSize: TITLE_FS, fill: "#000"})
    ]
  });
  place(p2, colW, r * rowH);
});
</script>
</body></html>
